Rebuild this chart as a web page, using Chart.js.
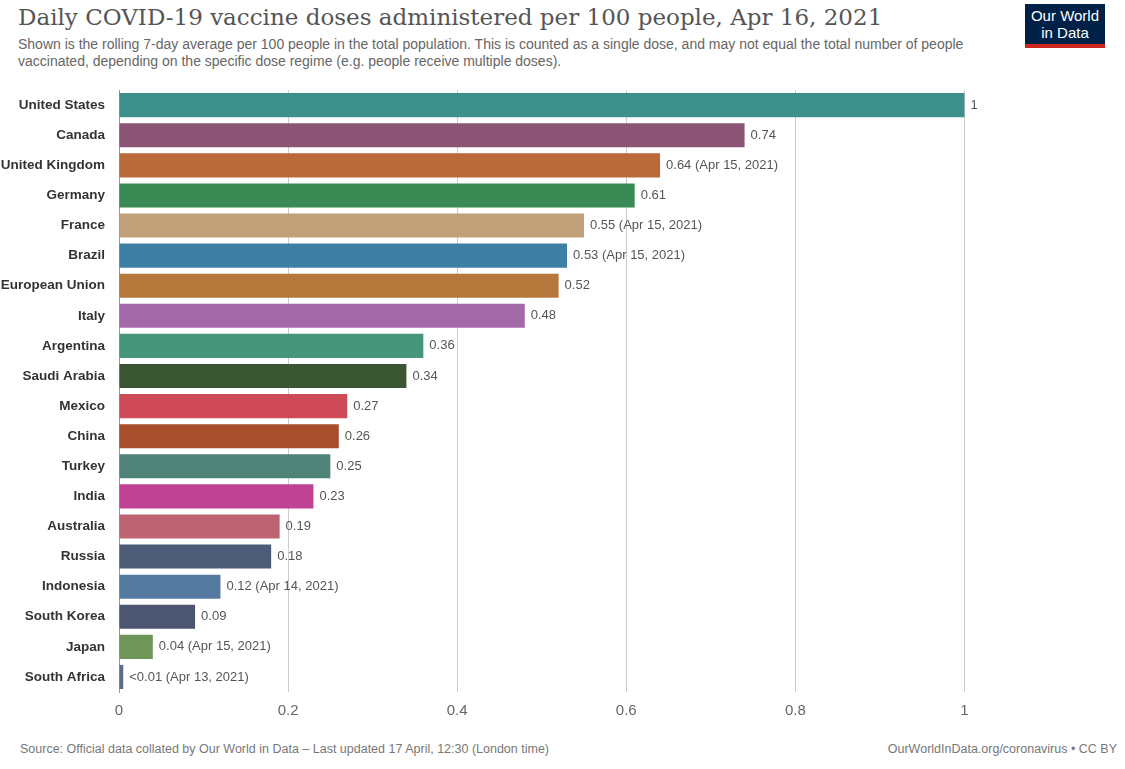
<!DOCTYPE html>
<html><head><meta charset="utf-8">
<script src="https://cdn.jsdelivr.net/npm/chart.js@4"></script>
<style>
body{margin:0;width:1125px;height:769px;background:#fff;font-family:"Liberation Sans",Arial,sans-serif;position:relative;overflow:hidden}
#title{position:absolute;left:18px;top:4px;font-family:"DejaVu Serif",Georgia,serif;font-size:23px;color:#555}
#sub{position:absolute;left:18px;top:36px;width:1000px;font-size:14px;color:#666;line-height:17px}
#logo{position:absolute;left:1025px;top:4px;width:80px;height:44px;background:#002147;color:#fff;font-size:15px;line-height:17px;text-align:center;padding-top:3px;box-sizing:border-box;border-bottom:4px solid #ce261e}
#src{position:absolute;left:20px;top:742px;font-size:12.5px;color:#777}
#url{position:absolute;right:8px;top:742px;font-size:12.5px;color:#777}
#wrap{position:absolute;left:0;top:76px;width:1125px;height:654px}
</style></head><body>
<div id="title">Daily COVID-19 vaccine doses administered per 100 people, Apr 16, 2021</div>
<div id="sub">Shown is the rolling 7-day average per 100 people in the total population. This is counted as a single dose, and may not equal the total number of people vaccinated, depending on the specific dose regime (e.g. people receive multiple doses).</div>
<div id="logo">Our World<br>in Data</div>
<div id="wrap"><canvas id="c"></canvas></div>
<div id="src">Source: Official data collated by Our World in Data – Last updated 17 April, 12:30 (London time)</div>
<div id="url">OurWorldInData.org/coronavirus • CC BY</div>
<script>
const countries = ["United States","Canada","United Kingdom","Germany","France","Brazil","European Union","Italy","Argentina","Saudi Arabia","Mexico","China","Turkey","India","Australia","Russia","Indonesia","South Korea","Japan","South Africa"];
const doses = [1,0.74,0.64,0.61,0.55,0.53,0.52,0.48,0.36,0.34,0.27,0.26,0.25,0.23,0.19,0.18,0.12,0.09,0.04,0.005];
const valueLabels = ["1","0.74","0.64 (Apr 15, 2021)","0.61","0.55 (Apr 15, 2021)","0.53 (Apr 15, 2021)","0.52","0.48","0.36","0.34","0.27","0.26","0.25","0.23","0.19","0.18","0.12 (Apr 14, 2021)","0.09","0.04 (Apr 15, 2021)","<0.01 (Apr 13, 2021)"];
const colors = ["#3c8f8a","#8c5474","#b9693a","#3a8a55","#c19f79","#3e7fa6","#b6773a","#a368a8","#45957a","#3a5531","#cf4a57","#a94e2c","#4f8378","#c04294","#bd6371","#4c5c76","#557aa0","#4c5673","#6f955a","#5a6c8a"];
const xTicks = [0,0.2,0.4,0.6,0.8,1];

const labelPlugin = {
  id:"vals",
  afterDatasetsDraw(chart){
    const ctx = chart.ctx, meta = chart.getDatasetMeta(0);
    ctx.save();
    ctx.font = "13px 'Liberation Sans', Arial, sans-serif";
    ctx.fillStyle = "#555"; ctx.textBaseline = "middle";
    meta.data.forEach((b,i)=>ctx.fillText(valueLabels[i], b.x+6, b.y));
    ctx.restore();
  }
};

new Chart(document.getElementById("c"),{
  type:"bar",
  data:{labels:countries,datasets:[{data:doses,backgroundColor:colors,barPercentage:0.8,categoryPercentage:1}]},
  options:{
    indexAxis:"y",responsive:true,maintainAspectRatio:false,animation:false,
    plugins:{legend:{display:false},tooltip:{enabled:false}},
    scales:{
      x:{min:0,max:1.19,afterBuildTicks:a=>{a.ticks=xTicks.map(v=>({value:v}))},
        grid:{color:"#ccc",drawTicks:false},border:{display:false},
        ticks:{color:"#666",font:{size:15},padding:10,callback:v=>String(v)}},
      y:{afterFit:a=>{a.width=119},grid:{display:false},border:{color:"#999"},
        ticks:{color:"#333",font:{size:13.5,weight:"bold"},padding:6}}
    }
  },
  plugins:[labelPlugin]
});
</script>
</body></html>
